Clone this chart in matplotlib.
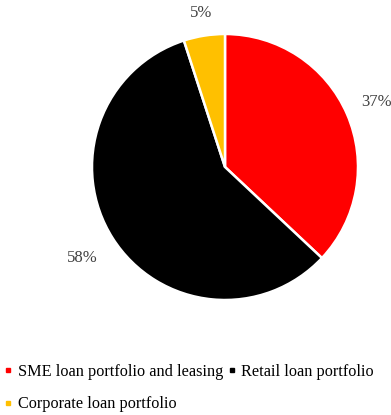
import numpy as np
import matplotlib
matplotlib.use("Agg")
import matplotlib.pyplot as plt
from matplotlib.lines import Line2D

# loan portfolio structure
labels = ["SME loan portfolio and leasing", "Retail loan portfolio", "Corporate loan portfolio"]
shares = [37, 58, 5]
colors = ["#FF0000", "#000000", "#FFC000"]
label_dist = [1.24, 1.27, 1.17]

plt.rcParams["font.family"] = ["Liberation Serif"]

fig = plt.figure(figsize=(3.91, 4.15), dpi=100)
W, H = 391, 415
cx, cy, r = 225, 167, 133
ax = fig.add_axes([(cx - r) / W, 1 - (cy + r) / H, 2 * r / W, 2 * r / H])

wedges, _ = ax.pie(shares, colors=colors, startangle=90, counterclock=False,
                   wedgeprops=dict(edgecolor="white", linewidth=1.8))
ax.set_xlim(-1, 1)
ax.set_ylim(-1, 1)

for w, v, d in zip(wedges, shares, label_dist):
    ang = np.deg2rad((w.theta1 + w.theta2) / 2)
    ax.text(d * np.cos(ang), d * np.sin(ang), f"{v}%", ha="center", va="center",
            fontsize=12, color="#404040", clip_on=False)

# column-major fill: SME + Corporate in first column, Retail in second
order = [0, 2, 1]
handles = [Line2D([], [], marker="s", linestyle="none", markersize=3.5,
                  markerfacecolor=colors[i], markeredgecolor=colors[i]) for i in order]
fig.legend(handles, [labels[i] for i in order], loc="lower left",
           bbox_to_anchor=(-0.003, -0.005), ncol=2, frameon=False, fontsize=11.7,
           handlelength=0.5, handletextpad=0.35, columnspacing=0.3,
           labelspacing=1.0, borderaxespad=0.0, borderpad=0.3)

fig.savefig("out.png", dpi=100)
